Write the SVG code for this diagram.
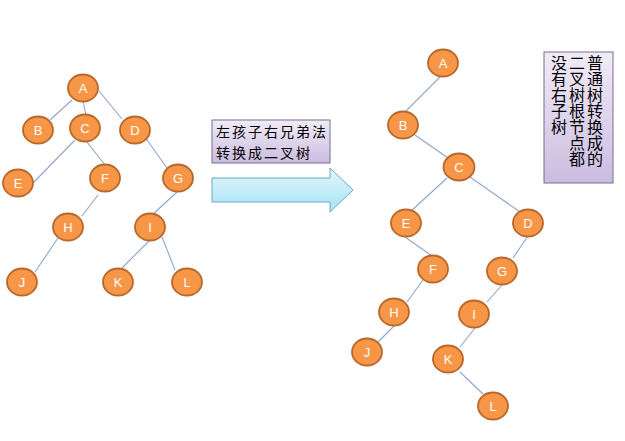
<svg xmlns="http://www.w3.org/2000/svg" width="625" height="441" viewBox="0 0 625 441">
<defs>
<linearGradient id="purp" x1="0" y1="0" x2="0" y2="1">
<stop offset="0" stop-color="#F1ECF7"/>
<stop offset="1" stop-color="#CBBCE0"/>
</linearGradient>
<linearGradient id="cyan" x1="0" y1="0" x2="0" y2="1">
<stop offset="0" stop-color="#E2F7FD"/>
<stop offset="1" stop-color="#A6E2F4"/>
</linearGradient>
<style>
.n ellipse{fill:#F79646;stroke:#B8682B;stroke-width:1.8}
.n text{fill:#FFFFFF;font-family:"Liberation Sans","Open Sans",sans-serif;font-size:13px;text-anchor:middle}
.e line{stroke:#8DA6CC;stroke-width:1.1}
.box{fill:url(#purp);stroke:#7B6C93;stroke-width:1}
.cjk{font-family:"Noto Sans CJK SC",sans-serif;font-size:16px;fill:#000}
.cjk2{font-family:"Noto Sans CJK SC",sans-serif;font-size:14px;letter-spacing:2px;fill:#000}
</style>
</defs>
<rect width="625" height="441" fill="#FFFFFF"/>
<g id="connectors" class="e">
<line x1="72" y1="100" x2="50" y2="120"/>
<line x1="83" y1="101" x2="86" y2="115"/>
<line x1="99" y1="91" x2="122" y2="119"/>
<line x1="75" y1="140" x2="33" y2="183"/>
<line x1="87" y1="142" x2="105" y2="165"/>
<line x1="98" y1="195" x2="82" y2="216"/>
<line x1="145" y1="137" x2="167" y2="168"/>
<line x1="177" y1="192" x2="152" y2="215"/>
<line x1="58" y1="238" x2="35" y2="272"/>
<line x1="150" y1="240" x2="122" y2="268"/>
<line x1="162" y1="237" x2="175" y2="270"/>
<line x1="442" y1="75" x2="405" y2="112"/>
<line x1="415" y1="135" x2="448" y2="158"/>
<line x1="447" y1="178" x2="410" y2="212"/>
<line x1="470" y1="177" x2="520" y2="212"/>
<line x1="405" y1="237" x2="432" y2="256"/>
<line x1="423" y1="280" x2="407" y2="302"/>
<line x1="395" y1="325" x2="378" y2="342"/>
<line x1="528" y1="236" x2="513" y2="258"/>
<line x1="502" y1="285" x2="487" y2="302"/>
<line x1="475" y1="328" x2="460" y2="347"/>
<line x1="460" y1="372" x2="483" y2="394"/>
</g>
<g id="L_A" class="n"><ellipse cx="83" cy="88" rx="15" ry="13.5"/><text x="83" y="93">A</text></g>
<g id="L_B" class="n"><ellipse cx="38" cy="130" rx="15" ry="13.5"/><text x="38" y="135">B</text></g>
<g id="L_C" class="n"><ellipse cx="85" cy="128" rx="15" ry="13.5"/><text x="85" y="133">C</text></g>
<g id="L_D" class="n"><ellipse cx="135" cy="130" rx="15" ry="13.5"/><text x="135" y="135">D</text></g>
<g id="L_E" class="n"><ellipse cx="18" cy="183" rx="15" ry="13.5"/><text x="18" y="188">E</text></g>
<g id="L_F" class="n"><ellipse cx="105" cy="178" rx="15" ry="13.5"/><text x="105" y="183">F</text></g>
<g id="L_G" class="n"><ellipse cx="178" cy="178" rx="15" ry="13.5"/><text x="178" y="183">G</text></g>
<g id="L_H" class="n"><ellipse cx="68" cy="227" rx="15" ry="13.5"/><text x="68" y="232">H</text></g>
<g id="L_I" class="n"><ellipse cx="150" cy="227" rx="15" ry="13.5"/><text x="150" y="232">I</text></g>
<g id="L_J" class="n"><ellipse cx="22" cy="282" rx="15" ry="13.5"/><text x="22" y="287">J</text></g>
<g id="L_K" class="n"><ellipse cx="118" cy="282" rx="15" ry="13.5"/><text x="118" y="287">K</text></g>
<g id="L_L" class="n"><ellipse cx="187" cy="282" rx="15" ry="13.5"/><text x="187" y="287">L</text></g>
<g id="R_A" class="n"><ellipse cx="443" cy="63" rx="15" ry="13.5"/><text x="443" y="68">A</text></g>
<g id="R_B" class="n"><ellipse cx="403" cy="125" rx="15" ry="13.5"/><text x="403" y="130">B</text></g>
<g id="R_C" class="n"><ellipse cx="459" cy="167" rx="15.5" ry="13.5"/><text x="459" y="172">C</text></g>
<g id="R_E" class="n"><ellipse cx="406" cy="223" rx="15" ry="13.5"/><text x="406" y="228">E</text></g>
<g id="R_D" class="n"><ellipse cx="528" cy="223" rx="15" ry="13.5"/><text x="528" y="228">D</text></g>
<g id="R_F" class="n"><ellipse cx="433" cy="269" rx="15" ry="13.5"/><text x="433" y="274">F</text></g>
<g id="R_G" class="n"><ellipse cx="502" cy="271" rx="15" ry="13.5"/><text x="502" y="276">G</text></g>
<g id="R_H" class="n"><ellipse cx="394" cy="312" rx="15" ry="13.5"/><text x="394" y="317">H</text></g>
<g id="R_I" class="n"><ellipse cx="474" cy="314" rx="15" ry="13.5"/><text x="474" y="319">I</text></g>
<g id="R_J" class="n"><ellipse cx="367" cy="352" rx="15" ry="13.5"/><text x="367" y="357">J</text></g>
<g id="R_K" class="n"><ellipse cx="448" cy="359" rx="15" ry="13.5"/><text x="448" y="364">K</text></g>
<g id="R_L" class="n"><ellipse cx="493" cy="406" rx="15" ry="13.5"/><text x="493" y="411">L</text></g>
<g id="label1">
<rect class="box" x="212" y="120" width="118" height="43"/>
<text class="cjk2" x="216" y="137">左孩子右兄弟法</text>
<text class="cjk2" x="216" y="158">转换成二叉树</text>
</g>
<g id="arrow">
<path d="M212,178 L330,178 L330,168 L353,190 L330,212 L330,202 L212,202 Z" fill="url(#cyan)" stroke="#6FA6C4" stroke-width="1"/>
</g>
<g id="label2">
<rect class="box" x="544" y="52" width="69" height="131"/>
<text class="cjk" x="595" y="55" style="writing-mode:vertical-rl">普通树转换成的</text>
<text class="cjk" x="577" y="55" style="writing-mode:vertical-rl">二叉树根节点都</text>
<text class="cjk" x="559" y="55" style="writing-mode:vertical-rl">没有右子树</text>
</g>
</svg>
